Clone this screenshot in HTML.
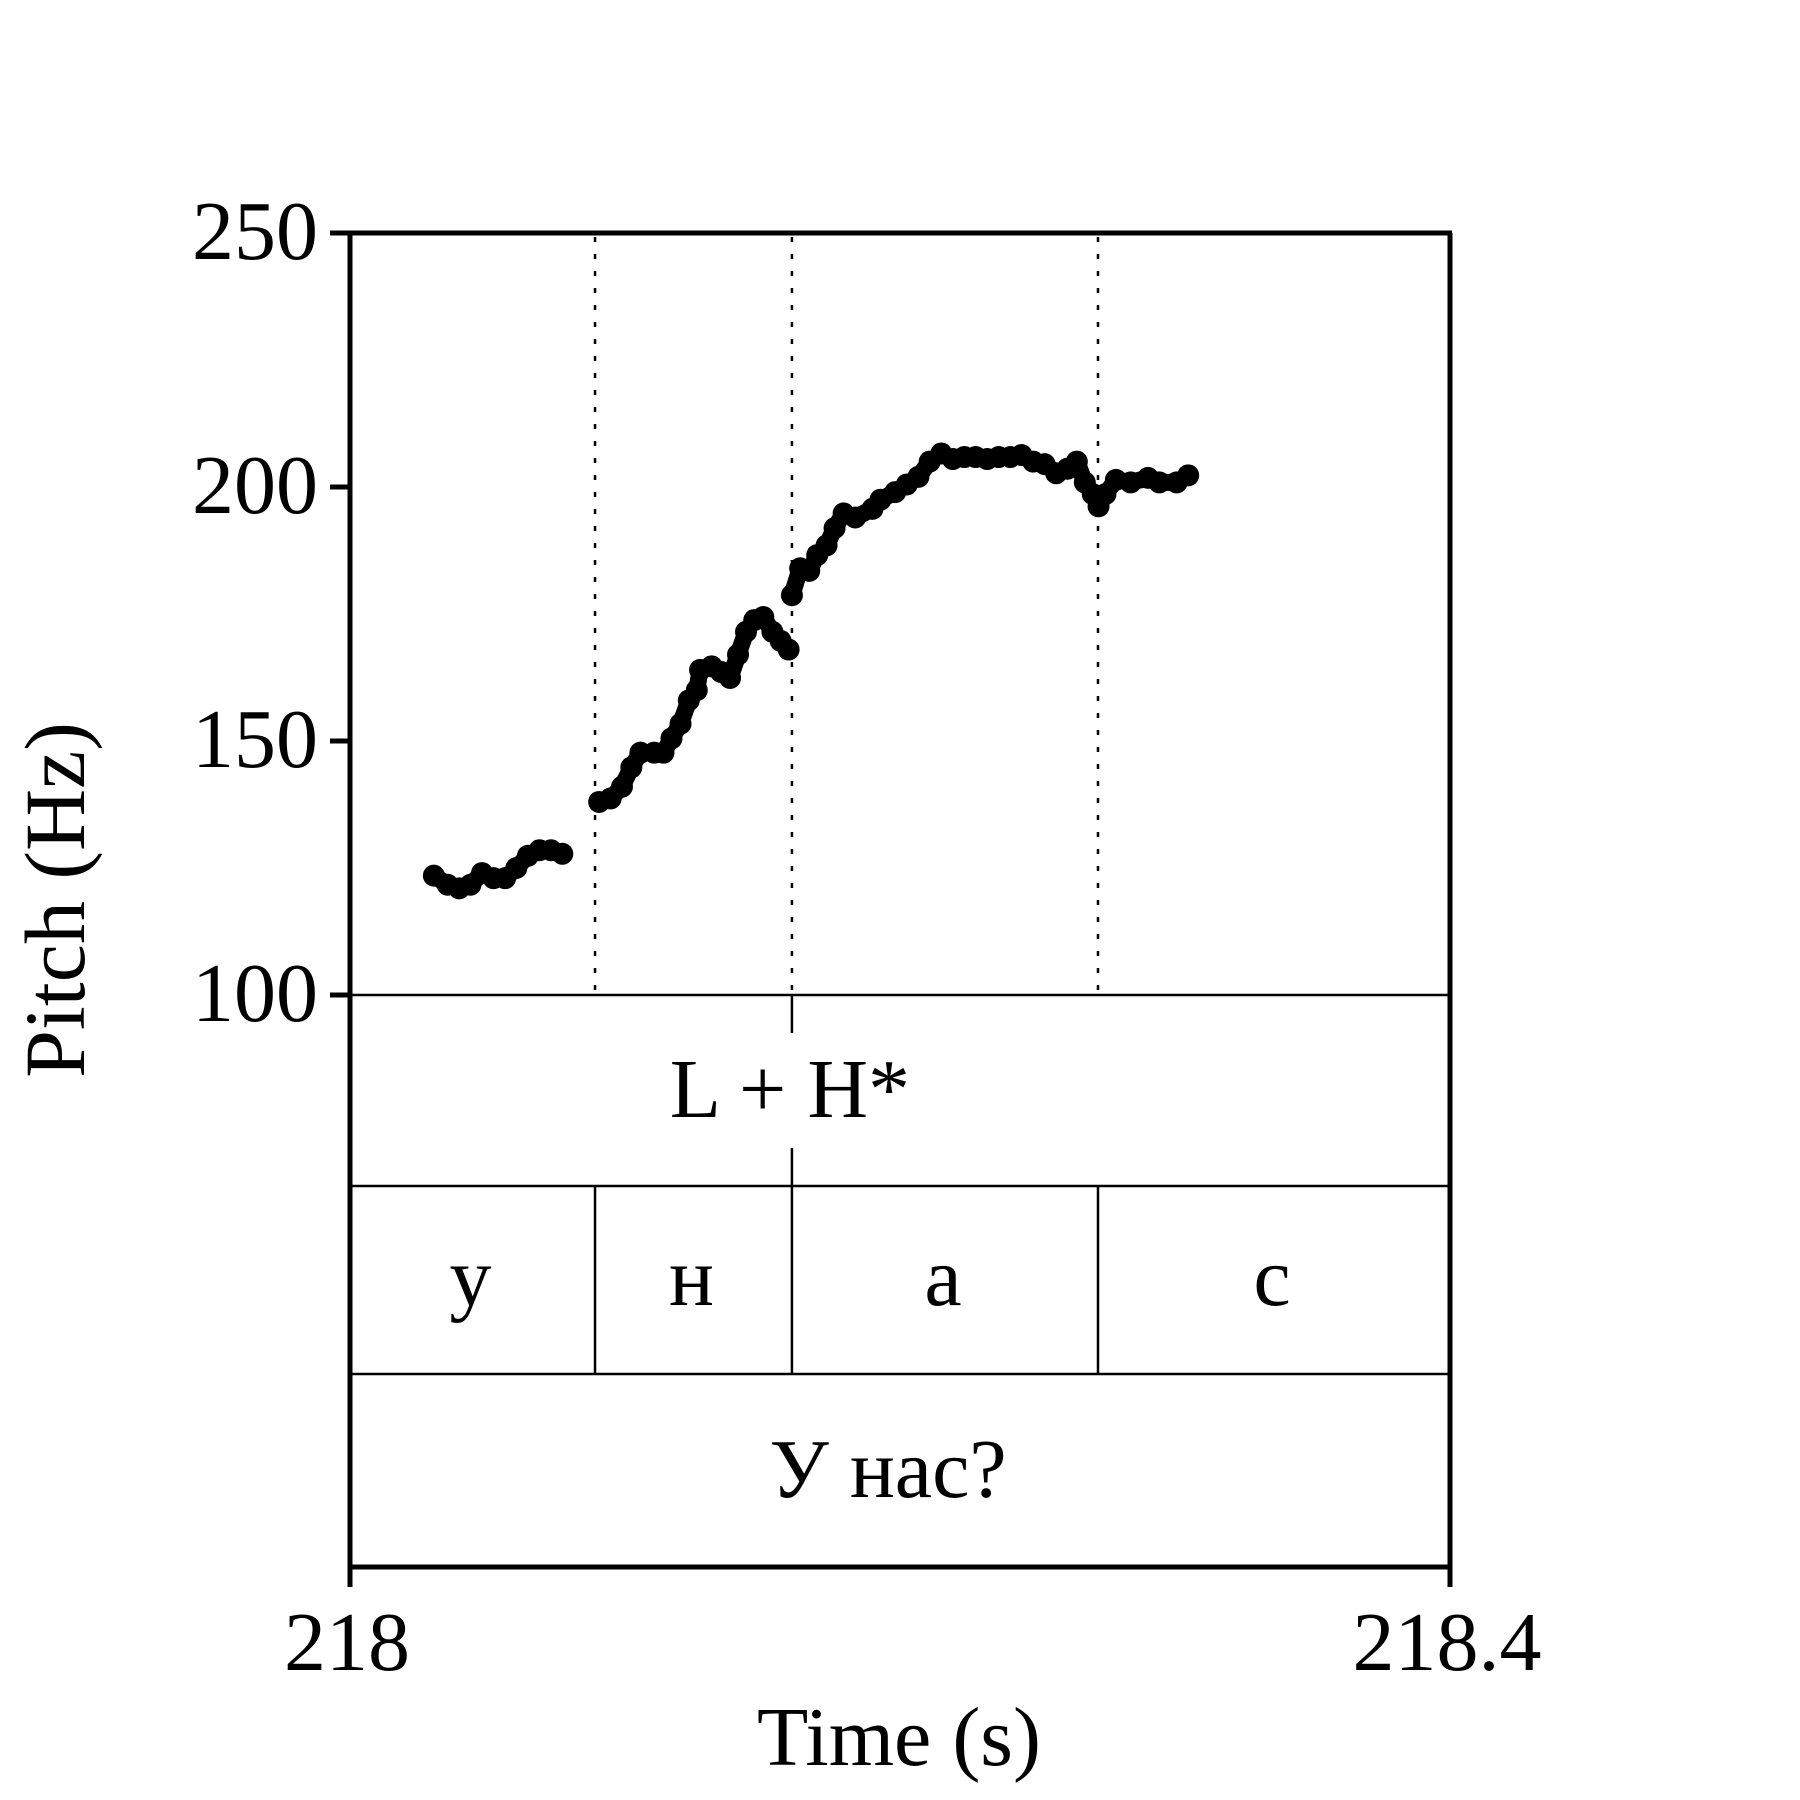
<!DOCTYPE html>
<html><head><meta charset="utf-8"><style>
html,body{margin:0;padding:0;background:#fff;}
svg{display:block;}
text{font-family:"Liberation Serif","Noto Serif CJK SC",serif;fill:#000;}
</style></head><body>
<svg id="chart" width="1800" height="1800" viewBox="0 0 1800 1800" xmlns="http://www.w3.org/2000/svg">
<g id="frame"></g>
<g id="marks"></g>
<g id="labels"></g>
</svg>
<script>
// Time offsets (ms after 218 s) and pitch (Hz), per voiced segment
const seg1T = [30.5,35.5,39.7,43.8,48.0,52.2,56.4,60.5,64.7,68.9,73.1,77.2];
const seg1F = [123.5,121.7,121,121.7,124,123,123,125,127.4,128.5,128.5,127.8];
const seg2T = [90.6,94.8,98.9,102.3,105.6,110.6,114.0,116.9,120.2,123.2,126.1,127.3,131.5,134.9,138.2,141.1,144.0,147.0,150.3,153.6,156.6,159.5];
const seg2F = [138,138.7,141,144.8,147.7,147.7,147.7,150.5,153.4,158,160,164,164.7,163.6,162.4,167,171.5,173.8,174.4,171.5,169.7,168];
const seg3T = [160.7,163.7,167.0,169.9,173.3,176.2,179.5,183.7,190.0,192.9,198.3,202.5,206.7,210.8,215.0,219.2,223.4,227.5,231.7,235.9,240.1,244.2,248.4,252.6,256.8,260.9,264.3,267.2,270.1,272.2,274.7,278.5,283.9,290.2,294.3,300.6,304.8];
const seg3F = [178.7,184,183.5,186.6,188.5,191.9,194.8,194,195.7,197.5,199,200.5,202,205,206.6,205.5,205.9,205.9,205.5,205.9,205.9,206.3,205,204.5,202.7,203.6,205,200.9,198.6,196.2,198.6,201.4,200.9,201.8,200.9,200.9,202.3];
const yTicks = [100,150,200,250];
const xTickLabels = ["218","218.4"];
const xTickVals = [0,400];
const boundaries = [89.1,160.7,272.0];
const toneTime = [160.7];
const toneLabel = ["L + H*"];
const phones = ["у","н","а","с"];
const phoneEdges = [0,89.1,160.7,272.0,400];
const wordLabel = ["У нас?"];

const NS="http://www.w3.org/2000/svg";
const X0=350,X1=1450,Y250=233,Y100=995;
const xS=t=>X0+(t/400)*(X1-X0);
const yS=f=>Y100-(f-100)/150*(Y100-Y250);
const T1=1186,T2=1374,T3=1567;
function mk(tag,attrs,parent){const e=document.createElementNS(NS,tag);for(const k in attrs)e.setAttribute(k,attrs[k]);parent.appendChild(e);return e;}
const frame=document.getElementById('frame'),marks=document.getElementById('marks'),labels=document.getElementById('labels');

let e;
e=mk('line',{x1:X0,y1:Y250,x2:X0,y2:T3+2,stroke:'#000','stroke-width':5},frame);


e=mk('line',{x1:X1,y1:Y250,x2:X1,y2:T3+20,stroke:'#000','stroke-width':5},frame);


e=mk('line',{x1:X0-20,y1:Y250,x2:X1+2,y2:Y250,stroke:'#000','stroke-width':5},frame);


e=mk('line',{x1:X0,y1:T3,x2:X1,y2:T3,stroke:'#000','stroke-width':5},frame);


e=mk('line',{x1:X0,y1:Y100,x2:X1,y2:Y100,stroke:'#000','stroke-width':2.5},frame);


e=mk('line',{x1:X0,y1:T1,x2:X1,y2:T1,stroke:'#000','stroke-width':2.5},frame);


e=mk('line',{x1:X0,y1:T2,x2:X1,y2:T2,stroke:'#000','stroke-width':2.5},frame);



yTicks.forEach(v=>{
  const t=mk('line',{x1:X0-20,y1:yS(v),x2:X0,y2:yS(v),stroke:'#000','stroke-width':5},frame);
  
  
  const l=mk('text',{x:X0-32,y:yS(v)+26,'text-anchor':'end','font-size':84},labels);
  l.textContent=v;
  
  
});
xTickVals.forEach((v,i)=>{
  const t=mk('line',{x1:xS(v),y1:T3,x2:xS(v),y2:T3+20,stroke:'#000','stroke-width':5},frame);
  
  
  const l=mk('text',{x:xS(v)-3,y:1670,'text-anchor':'middle','font-size':84},labels);
  l.textContent=xTickLabels[i];
  
  
});
boundaries.forEach((b,i)=>{
  const d=mk('line',{x1:xS(b),y1:Y250+4,x2:xS(b),y2:Y100,stroke:'#000','stroke-width':2.5,'stroke-dasharray':'5 12'},frame);
  
  
});
toneTime.forEach((t,i)=>{
  let a=mk('line',{x1:xS(t),y1:Y100,x2:xS(t),y2:Y100+38,stroke:'#000','stroke-width':2.5},frame);
  
  
  a=mk('line',{x1:xS(t),y1:T1-38,x2:xS(t),y2:T1,stroke:'#000','stroke-width':2.5},frame);
  
  
  const l=mk('text',{x:xS(t)-2,y:1117,'text-anchor':'middle','font-size':84},labels);
  l.textContent=toneLabel[i];
  
  
});
phones.forEach((p,i)=>{
  if(i>0){
    const b=mk('line',{x1:xS(phoneEdges[i]),y1:T1,x2:xS(phoneEdges[i]),y2:T2,stroke:'#000','stroke-width':2.5},frame);
    
    
  }
  const l=mk('text',{x:(xS(phoneEdges[i])+xS(phoneEdges[i+1]))/2-2,y:1305,'text-anchor':'middle','font-size':84},labels);
  l.textContent=p;
  
  
});
e=mk('text',{x:888,y:1497,'text-anchor':'middle','font-size':84},labels);
e.textContent=wordLabel[0];


e=mk('text',{x:899,y:1765,'text-anchor':'middle','font-size':84},labels);
e.textContent='Time (s)';


e=mk('text',{x:0,y:0,'text-anchor':'middle','font-size':86,transform:'translate(84,900) rotate(-90)'},labels);
e.textContent='Pitch (Hz)';



[[seg1T,seg1F],[seg2T,seg2F],[seg3T,seg3F]].forEach((s,si)=>{
  const pts=s[0].map((t,i)=>xS(t)+','+yS(s[1][i])).join(' ');
  const pl=mk('polyline',{points:pts,fill:'none',stroke:'#000','stroke-width':17,'stroke-linejoin':'round'},marks);
  
  
  s[0].forEach((t,i)=>{
    const c=mk('circle',{cx:xS(t),cy:yS(s[1][i]),r:11,fill:'#000'},marks);
    
    
  });
});
</script>
</body></html>
